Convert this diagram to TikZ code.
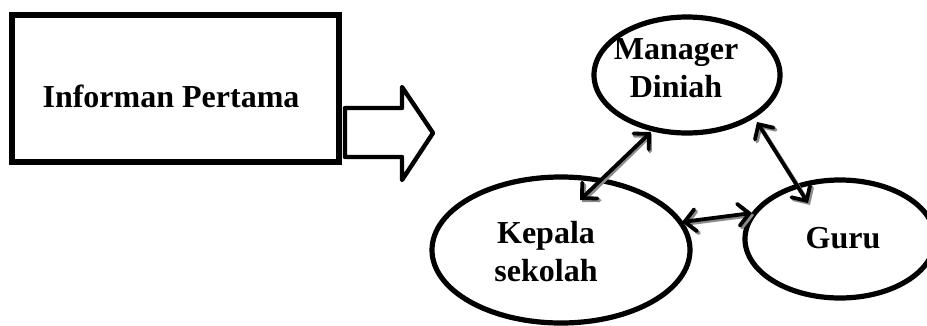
\documentclass[tikz,border=0pt]{standalone}
\usepackage{fontspec}
\setmainfont{Liberation Serif}
\usetikzlibrary{shapes.geometric,arrows.meta}
\begin{document}
\begin{tikzpicture}[x=1pt,y=-1pt,
  lbl/.style={font=\fontsize{32}{38}\selectfont\bfseries, inner sep=0pt, align=center},
  oval/.style={ellipse, draw, line width=5.2pt, inner sep=0pt},
  link/.style={line width=3.8pt, line cap=round,
    {Straight Barb[length=11pt,width=22pt,line cap=round]}-{Straight Barb[length=11pt,width=22pt,line cap=round]}},
  linkshadow/.style={link, draw=black!45}
]
\useasboundingbox (0,0) rectangle (927,325);

% left box and its label
\node[draw, line width=5.5pt, minimum width=327pt, minimum height=147pt, inner sep=0pt] (informan) at (175.5,88.5) {};
\node[lbl, anchor=base] (informanlbl) at (171,107) {Informan Pertama};

% block arrow pointing right
\draw[line width=4.4pt, line join=round]
  (345,108) -- (402,108) -- (402,87) -- (433,133) -- (402,180) -- (402,157) -- (345,157) -- cycle;

% the three parties
\node[oval, minimum width=186pt, minimum height=116pt] (manager) at (687,75) {};
\node[oval, minimum width=258pt, minimum height=146pt] (kepala) at (561,250) {};
\node[oval, minimum width=190pt, minimum height=118pt] (guru) at (840,239) {};

\node[lbl] (managerlbl) at (676,68) {Manager\\Diniah};
\node[lbl] (kepalalbl) at (546,252) {Kepala\\sekolah};
\node[lbl, anchor=base] (gurulbl) at (843,248) {Guru};

% two-way links, each with a soft grey shadow below right
\draw[linkshadow] ([xshift=21pt,yshift=48pt]kepala.center) -- ([xshift=-35pt,yshift=-59pt]manager.center);
\draw[linkshadow] ([xshift=72pt,yshift=-49pt]manager.center) -- ([xshift=-30pt,yshift=34pt]guru.center);
\draw[linkshadow] ([xshift=123pt,yshift=26pt]kepala.center) -- ([xshift=-86pt,yshift=24pt]guru.center);

\draw[link] ([xshift=19pt,yshift=50pt]kepala.center) -- ([xshift=-36pt,yshift=-57pt]manager.center);
\draw[link] ([xshift=70pt,yshift=-47pt]manager.center) -- ([xshift=-32pt,yshift=36pt]guru.center);
\draw[link] ([xshift=121pt,yshift=28pt]kepala.center) -- ([xshift=-88pt,yshift=26pt]guru.center);
\end{tikzpicture}
\end{document}
